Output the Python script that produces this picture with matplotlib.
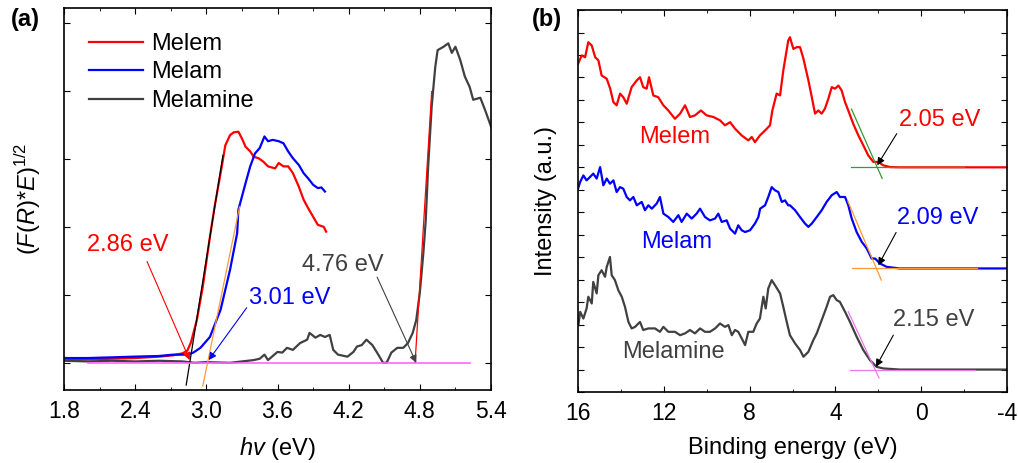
import numpy as np
import matplotlib
matplotlib.use("Agg")
import matplotlib.pyplot as plt
from matplotlib.ticker import MultipleLocator

plt.rcParams['font.family'] = ['Liberation Sans', 'DejaVu Sans']
plt.rcParams['mathtext.fontset'] = 'custom'
plt.rcParams['mathtext.rm'] = 'Liberation Sans'
plt.rcParams['mathtext.it'] = 'Liberation Sans:italic'
plt.rcParams['axes.unicode_minus'] = False

RED = '#ff0000'
BLUE = '#0000ff'
GRAY = '#404040'
FS = 17

# ---------- panel (a): Tauc plot ----------
melem_hv = [1.8, 2.0, 2.2, 2.4, 2.6, 2.72, 2.8, 2.84, 2.87, 2.92, 2.97, 3.03, 3.07, 3.13,
            3.16, 3.2, 3.23, 3.27, 3.3, 3.33, 3.37, 3.4, 3.44, 3.48, 3.52, 3.58, 3.61, 3.65,
            3.69, 3.73, 3.78, 3.82, 3.86, 3.9, 3.94, 3.99, 4.01]
melem_fr = [0.04, 0.05, 0.06, 0.07, 0.09, 0.11, 0.14, 0.18, 0.3, 0.63, 1.12, 1.85, 2.3, 2.89,
            3.2, 3.35, 3.39, 3.4, 3.3, 3.18, 3.11, 3.03, 3.01, 2.96, 2.89, 2.86, 2.94, 2.89,
            2.89, 2.79, 2.59, 2.4, 2.27, 2.15, 2.03, 2.0, 1.93]

melam_hv = [1.8, 2.0, 2.2, 2.38, 2.6, 2.72, 2.84, 2.89, 2.95, 3.03, 3.12, 3.2, 3.26, 3.27,
            3.33, 3.37, 3.41, 3.45, 3.49, 3.52, 3.56, 3.61, 3.65, 3.69, 3.73, 3.78, 3.82,
            3.86, 3.9, 3.94, 3.97, 4.0]
melam_fr = [0.07, 0.07, 0.08, 0.09, 0.1, 0.12, 0.12, 0.15, 0.22, 0.38, 0.78, 1.37, 1.91, 2.25,
            2.64, 2.89, 3.08, 3.16, 3.33, 3.26, 3.28, 3.26, 3.23, 3.11, 3.01, 2.91, 2.79,
            2.71, 2.62, 2.57, 2.58, 2.52]

melamine_hv = [1.8, 2.0, 2.2, 2.4, 2.6, 2.8, 2.9, 3.0, 3.2, 3.4, 3.45, 3.49, 3.52, 3.56, 3.6,
               3.64, 3.68, 3.73, 3.79, 3.85, 3.87, 3.92, 3.96, 4.0, 4.04, 4.07, 4.11, 4.19,
               4.24, 4.27, 4.31, 4.35, 4.4, 4.45, 4.49, 4.52, 4.56, 4.61, 4.66, 4.7, 4.74,
               4.77, 4.8, 4.83, 4.85, 4.87, 4.9, 4.93, 4.95, 5.0, 5.04, 5.07, 5.1, 5.14,
               5.18, 5.22, 5.25, 5.31, 5.35, 5.41]
melamine_fr = [0.03, 0.02, 0.03, 0.02, 0.03, 0.02, 0.0, 0.01, 0.0, 0.04, 0.06, 0.12, 0.04, 0.1,
               0.16, 0.15, 0.22, 0.19, 0.29, 0.34, 0.44, 0.37, 0.41, 0.38, 0.41, 0.19, 0.12,
               0.09, 0.16, 0.24, 0.26, 0.34, 0.26, 0.12, 0.0, 0.0, 0.15, 0.22, 0.22, 0.29,
               0.44, 0.63, 1.03, 1.62, 2.1, 2.88, 3.77, 4.35, 4.6, 4.65, 4.7, 4.56, 4.65,
               4.46, 4.21, 4.06, 3.87, 3.9, 3.72, 3.43]

# linear fits (x range, slope, intercept energy)
gap_a = [2.86, 3.01, 4.76]
fit_a_xrange = [(2.83, 3.14), (2.97, 3.28), (4.76, 4.9)]
fit_a_slope = [10.9, 8.5, 28.5]
fit_a_colors = ['black', '#ff9933', RED]

# ---------- panel (b): XPS valence band ----------
be_melem = [16.0, 15.83, 15.67, 15.52, 15.36, 15.2, 15.05, 14.9, 14.66, 14.5, 14.35, 14.2,
            14.04, 13.89, 13.73, 13.5, 13.26, 13.11, 12.96, 12.8, 12.69, 12.49, 12.26, 12.02,
            11.79, 11.48, 11.24, 11.01, 10.78, 10.55, 10.27, 10.0, 9.69, 9.38, 9.15, 8.91,
            8.68, 8.37, 8.06, 7.9, 7.75, 7.52, 7.28, 7.05, 6.94, 6.74, 6.58, 6.43, 6.2, 6.12,
            5.96, 5.8, 5.65, 5.49, 5.26, 5.1, 4.95, 4.8, 4.64, 4.49, 4.33, 4.17, 4.02, 3.86,
            3.71, 3.55, 3.4, 3.17, 2.93, 2.7, 2.47, 2.23, 2.0, 1.77, 1.45, 1.0, 0.0, -1.0,
            -2.0, -3.0, -4.0]
int_melem = [14.6, 14.98, 14.9, 15.57, 15.42, 14.9, 14.76, 14.09, 13.94, 13.5, 12.9, 12.76,
             13.28, 13.12, 12.83, 13.57, 13.87, 14.01, 13.57, 13.5, 14.01, 13.2, 13.12, 12.76,
             12.53, 12.16, 12.39, 12.76, 12.24, 12.31, 12.53, 12.31, 12.24, 12.09, 11.87,
             12.01, 11.72, 11.42, 11.2, 11.35, 11.12, 11.42, 11.64, 11.87, 12.53, 13.28, 13.2,
             14.31, 15.64, 15.79, 15.27, 15.35, 15.35, 14.83, 13.87, 13.12, 12.39, 12.53,
             12.39, 12.61, 13.05, 13.57, 13.5, 13.64, 13.42, 12.9, 12.53, 11.94, 11.42, 10.98,
             10.53, 10.24, 10.24, 10.09, 10.01, 10.0, 10.0, 10.0, 10.0, 10.0, 10.0]

be_melam = [16.0, 15.9, 15.75, 15.6, 15.44, 15.29, 15.13, 14.97, 14.82, 14.66, 14.51, 14.35,
            14.2, 14.04, 13.89, 13.73, 13.58, 13.42, 13.26, 13.03, 12.88, 12.72, 12.56, 12.33,
            12.18, 12.02, 11.79, 11.56, 11.32, 11.17, 10.93, 10.7, 10.47, 10.31, 10.08, 9.85,
            9.61, 9.46, 9.3, 9.07, 8.91, 8.68, 8.53, 8.37, 8.21, 7.98, 7.75, 7.59, 7.51, 7.28,
            7.13, 6.97, 6.82, 6.66, 6.5, 6.35, 6.2, 6.12, 5.88, 5.65, 5.42, 5.26, 5.1, 4.87,
            4.64, 4.41, 4.17, 3.94, 3.79, 3.55, 3.4, 3.24, 3.01, 2.77, 2.54, 2.31, 2.15, 1.92,
            1.61, 1.0, 0.0, -1.0, -2.0, -3.0, -4.0]
int_melam = [9.05, 9.35, 9.64, 9.42, 9.57, 9.72, 9.5, 10.01, 9.2, 9.5, 9.27, 9.42, 8.9, 9.12,
             9.05, 8.68, 8.53, 8.68, 8.31, 8.46, 8.09, 8.31, 8.16, 8.39, 8.68, 7.94, 7.79,
             7.57, 7.87, 7.57, 7.94, 7.72, 7.94, 8.16, 7.79, 7.64, 7.72, 7.94, 7.57, 7.64,
             7.27, 7.05, 7.42, 7.2, 7.12, 7.2, 7.5, 7.79, 8.16, 8.31, 8.68, 9.12, 8.98, 8.9,
             8.46, 8.53, 8.31, 8.31, 8.09, 7.79, 7.5, 7.35, 7.5, 7.79, 8.09, 8.46, 8.76, 8.9,
             8.68, 8.68, 8.31, 7.72, 7.12, 6.68, 6.39, 5.94, 5.94, 5.72, 5.57, 5.5, 5.5, 5.5,
             5.5, 5.5, 5.5]

be_melamine = [15.98, 15.9, 15.75, 15.6, 15.52, 15.36, 15.29, 15.13, 15.05, 14.9, 14.74, 14.66,
               14.51, 14.43, 14.28, 14.12, 13.96, 13.81, 13.65, 13.5, 13.34, 13.11, 12.96,
               12.72, 12.41, 12.18, 12.02, 11.79, 11.48, 11.24, 11.01, 10.78, 10.55, 10.31,
               10.08, 9.85, 9.61, 9.38, 9.15, 8.99, 8.83, 8.68, 8.53, 8.37, 8.21, 8.06, 7.83,
               7.67, 7.52, 7.36, 7.25, 7.13, 6.97, 6.82, 6.58, 6.43, 6.27, 6.12, 5.88, 5.65,
               5.49, 5.26, 5.03, 4.87, 4.64, 4.41, 4.25, 4.1, 3.94, 3.79, 3.55, 3.32, 3.01,
               2.7, 2.39, 2.08, 1.77, 1.0, 0.0, -1.0, -2.0, -3.0, -4.0]
int_melamine = [2.98, 3.57, 3.27, 3.72, 4.24, 3.94, 4.9, 4.39, 5.2, 5.42, 5.13, 5.57, 6.01,
                5.2, 4.98, 4.53, 4.24, 3.79, 3.12, 2.83, 2.9, 3.12, 2.76, 2.83, 2.83, 2.68,
                2.9, 2.68, 2.68, 2.53, 2.61, 2.76, 2.61, 2.83, 2.68, 2.68, 2.83, 3.05, 2.9,
                2.98, 2.53, 2.76, 2.68, 2.39, 2.09, 2.68, 2.68, 3.05, 3.27, 4.24, 3.72, 4.61,
                4.98, 4.76, 4.39, 3.79, 3.12, 2.53, 2.16, 1.87, 1.57, 1.79, 2.31, 2.61, 3.2,
                3.79, 4.24, 4.31, 4.09, 4.01, 3.57, 3.12, 2.46, 1.87, 1.42, 1.12, 1.05, 1.0,
                1.0, 1.0, 1.0, 1.0, 1.0]

baselines_b = [10.0, 5.5, 1.0]
edge_b = [2.05, 2.09, 2.15]
edge_slope_b = [2.16, 2.25, 2.06]
edge_range_b = [(3.25, 1.82), (3.42, 1.86), (3.4, 1.97)]
base_range_b = [(3.25, -2.0), (3.24, -2.6), (3.32, -2.5)]
fit_b_colors = ['#339933', '#ff9933', '#ee77ee']

fig = plt.figure(figsize=(10.18, 4.63), dpi=100)
axa = fig.add_axes([0.0629, 0.1577, 0.4194, 0.825])
axb = fig.add_axes([0.5678, 0.1533, 0.4214, 0.825])

# panel a
axa.plot(melem_hv, melem_fr, color=RED, lw=1.6, label='Melem')
axa.plot(melam_hv, melam_fr, color=BLUE, lw=1.6, label='Melam')
axa.plot(melamine_hv, melamine_fr, color=GRAY, lw=1.6, label='Melamine')
for (x0, x1), k, e0, c in zip(fit_a_xrange, fit_a_slope, gap_a, fit_a_colors):
    xs = np.array([x0, x1])
    axa.plot(xs, k * (xs - e0), color=c, lw=0.9)
axa.plot([2.0, 5.22], [0, 0], color='#ff66ff', lw=1.2)

arrow = dict(arrowstyle='-|>', lw=0.8, mutation_scale=11, shrinkA=0, shrinkB=0)
axa.annotate('', xy=(2.86, 0.04), xytext=(2.5, 1.49), arrowprops=dict(arrow, color=RED))
axa.text(2.34, 1.74, '2.86 eV', color=RED, fontsize=FS, ha='center', va='center')
axa.annotate('', xy=(3.02, 0.04), xytext=(3.34, 0.81), arrowprops=dict(arrow, color=BLUE))
axa.text(3.7, 0.96, '3.01 eV', color=BLUE, fontsize=FS, ha='center', va='center')
axa.annotate('', xy=(4.77, 0.0), xytext=(4.44, 1.26), arrowprops=dict(arrow, color=GRAY))
axa.text(4.15, 1.44, '4.76 eV', color=GRAY, fontsize=FS, ha='center', va='center')

axa.set_xlim(1.8, 5.4)
axa.set_ylim(-0.4, 5.22)
axa.xaxis.set_major_locator(MultipleLocator(0.6))
axa.xaxis.set_minor_locator(MultipleLocator(0.3))
axa.yaxis.set_major_locator(MultipleLocator(1))
axa.set_yticklabels([])
axa.set_xlabel(r'$hv$ (eV)', fontsize=FS, labelpad=9)
axa.set_ylabel(r'$(F(R)$*$E)^{1/2}$', fontsize=FS, labelpad=8)
axa.legend(loc='upper left', frameon=False, fontsize=FS, handlelength=2.3,
           labelspacing=0.28, borderaxespad=0.65, handletextpad=0.35)

# panel b
curves_b = [(be_melem, int_melem, RED), (be_melam, int_melam, BLUE),
            (be_melamine, int_melamine, GRAY)]
for (xs, ys, c) in curves_b:
    axb.plot(xs, ys, color=c, lw=1.6)
for base, e0, k, (a0, a1), (b0, b1), c in zip(baselines_b, edge_b, edge_slope_b,
                                              edge_range_b, base_range_b, fit_b_colors):
    xs = np.array([a0, a1])
    axb.plot(xs, base + k * (xs - e0), color=c, lw=0.9)
    axb.plot([b0, b1], [base, base], color=c, lw=0.9)

axb.annotate('', xy=(2.05, 10.09), xytext=(1.14, 11.5), arrowprops=dict(arrow, color='black'))
axb.text(-0.88, 12.09, '2.05 eV', color=RED, fontsize=FS, ha='center', va='center')
axb.annotate('', xy=(2.0, 5.64), xytext=(1.17, 7.1), arrowprops=dict(arrow, color='black'))
axb.text(-0.78, 7.73, '2.09 eV', color=BLUE, fontsize=FS, ha='center', va='center')
axb.annotate('', xy=(2.11, 1.12), xytext=(1.3, 2.53), arrowprops=dict(arrow, color='black'))
axb.text(-0.57, 3.2, '2.15 eV', color=GRAY, fontsize=FS, ha='center', va='center')

axb.text(11.48, 11.33, 'Melem', color=RED, fontsize=FS, ha='center', va='center')
axb.text(11.38, 6.67, 'Melam', color=BLUE, fontsize=FS, ha='center', va='center')
axb.text(11.57, 1.78, 'Melamine', color=GRAY, fontsize=FS, ha='center', va='center')

axb.set_xlim(16, -4)
axb.set_ylim(0, 17)
axb.xaxis.set_major_locator(MultipleLocator(4))
axb.xaxis.set_minor_locator(MultipleLocator(2))
axb.yaxis.set_major_locator(MultipleLocator(1))
axb.set_yticklabels([])
axb.set_xlabel('Binding energy (eV)', fontsize=FS, labelpad=9)
axb.set_ylabel('Intensity (a.u.)', fontsize=FS, labelpad=8)

for ax in (axa, axb):
    ax.tick_params(which='both', direction='in', top=True, right=True, labelsize=16.5)
    ax.tick_params(which='major', length=4, pad=7)
    ax.tick_params(which='minor', length=2.5)
    for s in ax.spines.values():
        s.set_linewidth(1.2)

fig.text(0.011, 0.957, '(a)', fontsize=FS, fontweight='bold', va='center')
fig.text(0.522, 0.957, '(b)', fontsize=FS, fontweight='bold', va='center')

fig.savefig('out.png', dpi=100)
